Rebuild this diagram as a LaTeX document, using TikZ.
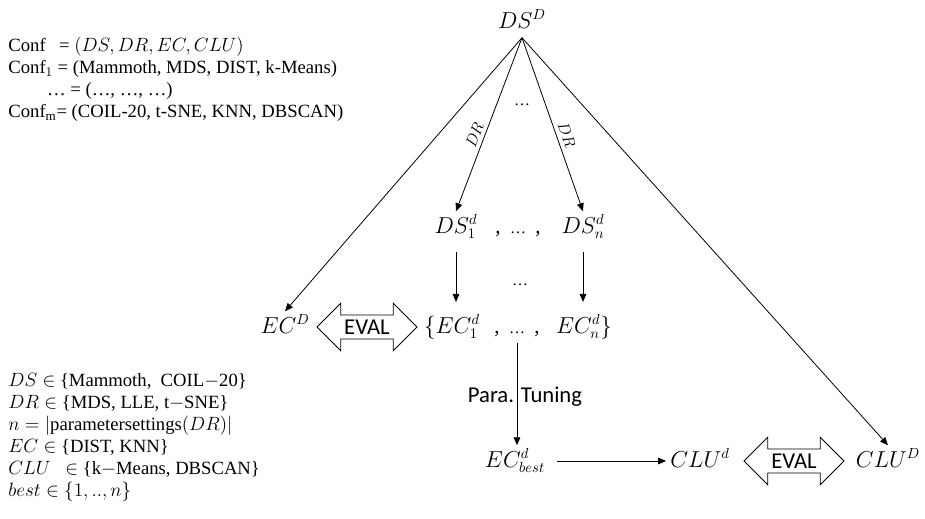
\documentclass[tikz,border=0pt]{standalone}
\usepackage{amsmath, tikz}
\usepackage{fontspec}
\setmainfont{Liberation Serif}
\newfontfamily\calibri{Carlito}
\usetikzlibrary{arrows.meta, shapes.arrows}

\newcommand{\smalldots}{{\fontsize{12}{12}\selectfont\ldots}}

\tikzset{
    lbl/.style={font=\fontsize{16}{19}\selectfont, anchor=base, inner sep=3pt, text height=13pt, text depth=4pt},
    drlbl/.style={font=\fontsize{13}{15}\selectfont, sloped, above, inner sep=3pt, pos=.58},
    evalarrow/.style={double arrow, draw, double arrow tip angle=90, double arrow head extend=8.9pt,
        minimum height=75pt, inner xsep=0pt, inner ysep=3.4pt, text height=10.5pt, text depth=0pt,
        font=\calibri\fontsize{17}{20}\selectfont},
    txt/.style={font=\fontsize{14}{16.5}\selectfont, align=left, anchor=north west, inner sep=0pt}
}

\begin{document}
\begin{tikzpicture}[x=0.75pt, y=-0.75pt, line width=0.6pt, >={Stealth[inset=0pt, length=6pt, width=5pt]}]
    \useasboundingbox (0,0) rectangle (925,518);
    \node (confs) at (8,37) [txt] {Conf\hspace{10pt}= $(DS, DR, EC, CLU)$\\
        Conf$_1$ = (Mammoth, MDS, DIST, k-Means)\\
        \hspace{29pt}\ldots{} = (\ldots, \ldots, \ldots)\\
        Conf$_{\mathrm{m}}$= (COIL-20, t-SNE, KNN, DBSCAN)};
    \node (defs) at (8,373) [txt] {$DS \in$ \{Mammoth,\ \ COIL$-$20\}\\
        $DR \in$ \{MDS, LLE, t$-$SNE\}\\
        $n = |$parametersettings$(DR)|$\\
        $EC \in$ \{DIST, KNN\}\\
        $CLU\ \ \in$ \{k$-$Means, DBSCAN\}\\
        $best \in \{1,..,n\}$};
    \node (dsD) at (522,28) [lbl] {$DS^D$};
    \node (topdots) at (522,105) [lbl] {\smalldots};
    \node (dsone) at (456,233) [lbl] {$DS^d_1$};
    \node (dsdots) at (518,233) [lbl] {,\hspace{7pt}\smalldots\hspace{7pt},};
    \node (dsn) at (583,233) [lbl] {$DS^d_n$};
    \node (middots) at (520,285) [lbl] {\smalldots};
    \node (ecD) at (285,333) [lbl] {$EC^D$};
    \node (evalone) at (367,327) [evalarrow] {EVAL};
    \node (econe) at (452,333) [lbl] {$\{EC^d_1$};
    \node (ecdots) at (517,333) [lbl] {,\hspace{7pt}\smalldots\hspace{7pt},};
    \node (ecn) at (584,333) [lbl] {$EC^d_n\}$};
    \node (tuning) at (525,397) [font=\calibri\fontsize{17}{20}\selectfont] {Para. Tuning};
    \node (ecbest) at (515,467) [lbl] {$EC^d_{best}$};
    \node (clud) at (700,467) [lbl] {$CLU^d$};
    \node (evaltwo) at (794,461) [evalarrow] {EVAL};
    \node (cluD) at (888,467) [lbl] {$CLU^D$};
    % arrows from the data set
    \draw [->] (dsD.south) -- (ecD.north);
    \draw [->] (dsD.south) -- node (drone) [drlbl] {$DR$} (dsone.north);
    \draw [->] (dsD.south) -- node (drn) [drlbl] {$DR$} (dsn.north);
    \draw [->] (dsD.south) -- (cluD.north);
    \draw [->, shorten <=7pt, shorten >=7pt] (dsone.south) -- (dsone.south |- econe.north);
    \draw [->, shorten <=7pt, shorten >=7pt] (dsn.south) -- (dsn.south |- ecn.north);
    \draw [->] (ecdots.south) -- (ecdots.south |- ecbest.north);
    \draw [->, shorten <=6pt] (ecbest.east) -- (clud.west);
\end{tikzpicture}
\end{document}
